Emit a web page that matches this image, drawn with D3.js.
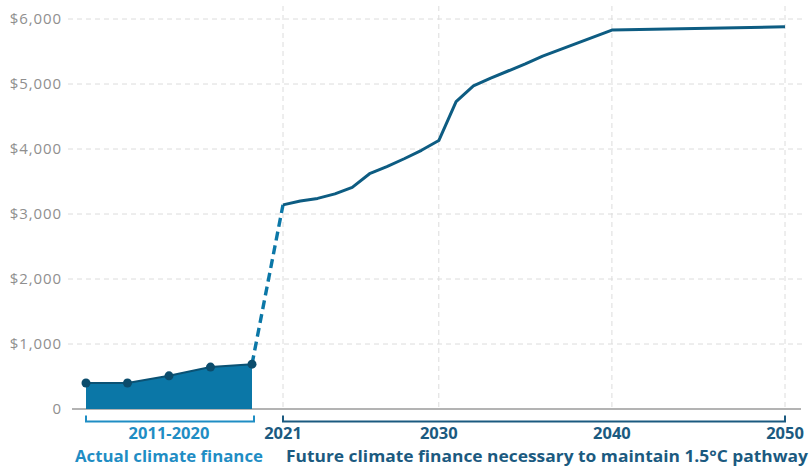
<!DOCTYPE html>
<html>
<head>
<meta charset="utf-8">
<script src="https://cdn.jsdelivr.net/npm/d3@7"></script>
<style>
  body { margin: 0; background: #fff; }
  svg { display: block; }
  .ytick { font-family: "Open Sans", sans-serif; font-size: 15px; letter-spacing: 0.9px; fill: #8f8f8f; }
  .lbl { font-family: "Open Sans", sans-serif; font-weight: bold; }
</style>
</head>
<body>
<svg id="chart"></svg>
<script>
// Chart size
const width = 811, height = 467;
const svg = d3.select("#chart").attr("width", width).attr("height", height);

// Actual climate finance, 2011-2020 (five points)
const actualPeriods = ["2011-12", "2013-14", "2015-16", "2017-18", "2019-20"];
const actualValues = [400, 400, 510, 645, 690];

// Future climate finance needed, 2021-2050
const futureYears = [2021, 2022, 2023, 2024, 2025, 2026, 2027, 2028, 2029, 2030,
  2031, 2032, 2033, 2034, 2035, 2036, 2037, 2038, 2039, 2040, 2050];
const futureValues = [3140, 3200, 3240, 3310, 3410, 3620, 3730, 3850, 3980, 4130,
  4730, 4970, 5090, 5200, 5310, 5430, 5530, 5630, 5730, 5830, 5880];

// Axis ticks
const yTicks = [0, 1000, 2000, 3000, 4000, 5000, 6000];
const xTicks = [2021, 2030, 2040, 2050];

// Scales: the actual period is drawn on its own compressed band
const y = d3.scaleLinear().domain([0, 6000]).range([409, 19]);
const xActual = d3.scalePoint().domain(actualPeriods).range([86, 252]);
const xFuture = d3.scaleLinear().domain([2021, 2050]).range([283, 785]);

const lineColor = "#0d5c82";
const areaColor = "#0b77a7";
const lightBlue = "#1f8dc4";
const darkBlue = "#1b5a80";

// Horizontal grid lines
svg.append("g")
  .selectAll("line")
  .data(yTicks.filter(d => d > 0))
  .join("line")
  .attr("x1", 68).attr("x2", 805)
  .attr("y1", d => y(d)).attr("y2", d => y(d))
  .attr("stroke", "#dcdcdc")
  .attr("stroke-width", 1)
  .attr("stroke-dasharray", "5,4");

// Vertical grid lines at the future tick years
svg.append("g")
  .selectAll("line")
  .data(xTicks)
  .join("line")
  .attr("x1", d => xFuture(d)).attr("x2", d => xFuture(d))
  .attr("y1", 6).attr("y2", y(0))
  .attr("stroke", "#dcdcdc")
  .attr("stroke-width", 1)
  .attr("stroke-dasharray", "5,4");

// Y tick labels
svg.append("g")
  .selectAll("text")
  .data(yTicks)
  .join("text")
  .attr("class", "ytick")
  .attr("x", 62)
  .attr("y", d => y(d))
  .attr("dy", "0.35em")
  .attr("text-anchor", "end")
  .text(d => d === 0 ? "0" : "$" + d3.format(",")(d));

// Baseline
svg.append("line")
  .attr("x1", 72).attr("x2", 801)
  .attr("y1", y(0)).attr("y2", y(0))
  .attr("stroke", "#9a9a9a")
  .attr("stroke-width", 1.5);

// Actual finance area
const area = d3.area()
  .x((d, i) => xActual(actualPeriods[i]))
  .y0(y(0))
  .y1(d => y(d));

svg.append("path")
  .datum(actualValues)
  .attr("d", area)
  .attr("fill", areaColor);

svg.append("path")
  .datum(actualValues)
  .attr("d", d3.line().x((d, i) => xActual(actualPeriods[i])).y(d => y(d)))
  .attr("fill", "none")
  .attr("stroke", "#0b5274")
  .attr("stroke-width", 2);

// Dashed link from last actual point to the first future point
svg.append("path")
  .attr("d", d3.line()([
    [xActual(actualPeriods[actualPeriods.length - 1]), y(actualValues[actualValues.length - 1])],
    [xFuture(futureYears[0]), y(futureValues[0])]
  ]))
  .attr("fill", "none")
  .attr("stroke", areaColor)
  .attr("stroke-width", 3.4)
  .attr("stroke-dasharray", "9,5");

// Future line
svg.append("path")
  .datum(futureYears.map((yr, i) => [yr, futureValues[i]]))
  .attr("d", d3.line().x(d => xFuture(d[0])).y(d => y(d[1])))
  .attr("fill", "none")
  .attr("stroke", lineColor)
  .attr("stroke-width", 3)
  .attr("stroke-linejoin", "round");

// Dots on actual values
svg.append("g")
  .selectAll("circle")
  .data(actualValues)
  .join("circle")
  .attr("cx", (d, i) => xActual(actualPeriods[i]))
  .attr("cy", d => y(d))
  .attr("r", 4.5)
  .attr("fill", "#0b4c6c");

// Brackets under the axis
function bracket(x1, x2, color) {
  svg.append("path")
    .attr("d", `M${x1},415.5 V421.5 H${x2} V415.5`)
    .attr("fill", "none")
    .attr("stroke", color)
    .attr("stroke-width", 2);
}
bracket(xActual(actualPeriods[0]), xActual(actualPeriods[actualPeriods.length - 1]) + 2, lightBlue);
bracket(xFuture(2021), xFuture(2050), darkBlue);

// Period label for the actual band
svg.append("text")
  .attr("class", "lbl")
  .attr("x", (xActual(actualPeriods[0]) + xActual(actualPeriods[actualPeriods.length - 1])) / 2)
  .attr("y", 439)
  .attr("text-anchor", "middle")
  .attr("font-size", 16.5)
  .attr("fill", lightBlue)
  .text("2011-2020");

// Year tick labels
svg.append("g")
  .selectAll("text")
  .data(xTicks)
  .join("text")
  .attr("class", "lbl")
  .attr("x", d => xFuture(d))
  .attr("y", 439)
  .attr("text-anchor", "middle")
  .attr("font-size", 16.5)
  .attr("fill", darkBlue)
  .text(d => d);

// Captions
svg.append("text")
  .attr("class", "lbl")
  .attr("x", 75)
  .attr("y", 462)
  .attr("font-size", 15.5)
  .attr("fill", lightBlue)
  .attr("textLength", 188)
  .attr("lengthAdjust", "spacingAndGlyphs")
  .text("Actual climate finance");

svg.append("text")
  .attr("class", "lbl")
  .attr("x", 286)
  .attr("y", 462)
  .attr("font-size", 15.5)
  .attr("fill", darkBlue)
  .attr("textLength", 522)
  .attr("lengthAdjust", "spacingAndGlyphs")
  .text("Future climate finance necessary to maintain 1.5°C pathway");
</script>
</body>
</html>
